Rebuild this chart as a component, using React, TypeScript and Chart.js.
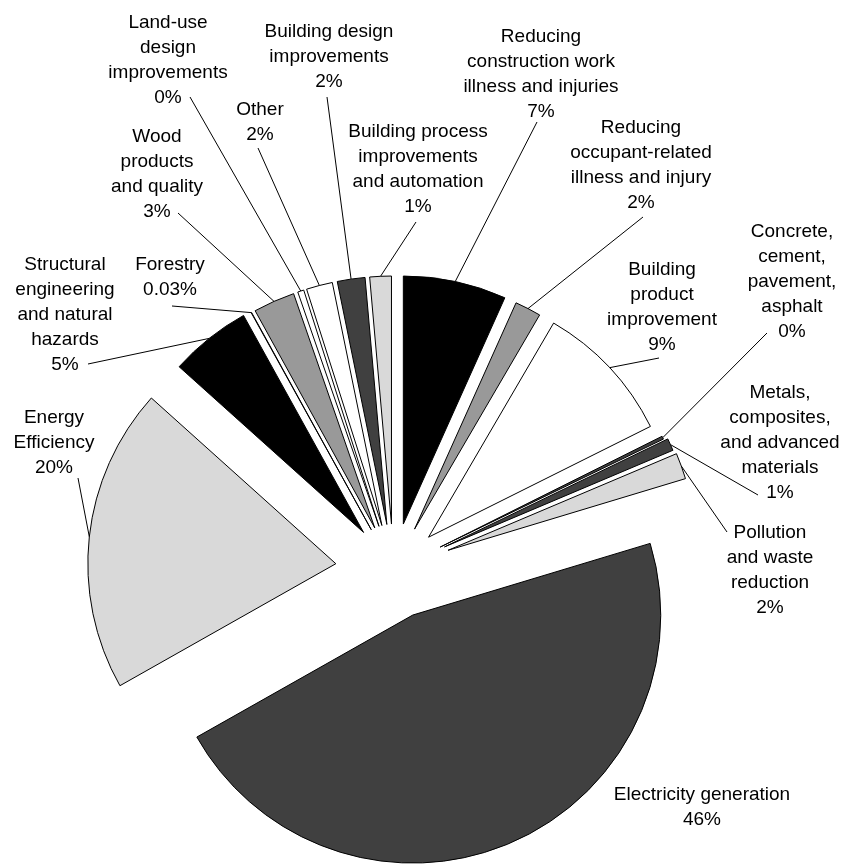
import React, { useEffect, useRef } from 'react';
import { Chart, registerables, PieController, ArcElement } from 'chart.js';

// ---------- data (clockwise from 12 o'clock) ----------
const categories: string[][] = [
  ['Reducing', 'construction work', 'illness and injuries'],
  ['Reducing', 'occupant-related', 'illness and injury'],
  ['Building', 'product', 'improvement'],
  ['Concrete,', 'cement,', 'pavement,', 'asphalt'],
  ['Metals,', 'composites,', 'and advanced', 'materials'],
  ['Pollution', 'and waste', 'reduction'],
  ['Electricity generation'],
  ['Energy', 'Efficiency'],
  ['Structural', 'engineering', 'and natural', 'hazards'],
  ['Forestry'],
  ['Wood', 'products', 'and quality'],
  ['Land-use', 'design', 'improvements'],
  ['Other'],
  ['Building design', 'improvements'],
  ['Building process', 'improvements', 'and automation'],
];
const values: number[] = [6.7, 1.7, 9.2, 0.2, 0.8, 1.7, 46.4, 19.8, 5.3, 0.03, 2.7, 0.4, 1.7, 1.8, 1.4];
const percentLabels: string[] = ['7%', '2%', '9%', '0%', '1%', '2%', '46%', '20%', '5%', '0.03%', '3%', '0%', '2%', '2%', '1%'];

// ---------- styles / layout ----------
const sliceColors = ['#000000', '#999999', '#ffffff', '#404040', '#404040', '#d9d9d9', '#404040', '#d9d9d9', '#000000', '#999999', '#999999', '#ffffff', '#ffffff', '#404040', '#d9d9d9'];
const explode = [47, 46, 48, 52, 56, 58, 49, 58, 48, 46, 46, 46, 46, 46, 46];
const labelAnchors: [number, number][] = [
  [541, 37], [641, 128], [662, 270], [792, 232], [780, 393], [770, 533], [702, 795],
  [54, 418], [65, 265], [170, 265], [157, 137], [168, 23], [260, 110], [329, 32], [418, 132],
];
const leaderStarts: ([number, number] | null)[] = [
  [537, 122], [643, 217], [659, 358], [767, 333], [758, 495], [727, 532], null,
  [78, 478], [88, 364], [172, 306], [178, 213], [190, 97], [258, 148], [327, 97], [416, 222],
];
const LINE_H = 25;
const FONT = '19px "Liberation Sans", Arial, Helvetica, sans-serif';

class ExplodedArc extends ArcElement {
  static id = 'explodedArc';
  draw(ctx: CanvasRenderingContext2D) {
    const el: any = this;
    const o = el.options;
    const mid = (el.startAngle + el.endAngle) / 2;
    const d = o.offset || 0;
    const cx = el.x + Math.cos(mid) * d;
    const cy = el.y + Math.sin(mid) * d;
    ctx.save();
    ctx.beginPath();
    ctx.moveTo(cx, cy);
    ctx.arc(cx, cy, el.outerRadius, el.startAngle, el.endAngle);
    ctx.closePath();
    ctx.fillStyle = o.backgroundColor;
    ctx.fill();
    if (o.borderWidth) {
      ctx.lineWidth = o.borderWidth;
      ctx.strokeStyle = o.borderColor;
      ctx.lineJoin = 'miter';
      ctx.stroke();
    }
    ctx.restore();
  }
}

class ExplodedPieController extends PieController {
  static id = 'explodedPie';
  static defaults = { dataElementType: 'explodedArc' };
}

Chart.register(...registerables, ExplodedArc, ExplodedPieController);

const labelPlugin = {
  id: 'sliceLabels',
  afterDatasetsDraw(chart: any) {
    const ctx: CanvasRenderingContext2D = chart.ctx;
    const meta = chart.getDatasetMeta(0);
    ctx.save();
    ctx.strokeStyle = '#000';
    ctx.lineWidth = 1;
    ctx.fillStyle = '#000';
    ctx.font = FONT;
    ctx.textAlign = 'center';
    ctx.textBaseline = 'middle';
    meta.data.forEach((arc: any, i: number) => {
      const mid = (arc.startAngle + arc.endAngle) / 2;
      const d = explode[i];
      const r = d + arc.outerRadius;
      const ex = arc.x + Math.cos(mid) * r;
      const ey = arc.y + Math.sin(mid) * r;
      const s = leaderStarts[i];
      if (s) {
        ctx.beginPath();
        ctx.moveTo(s[0], s[1]);
        ctx.lineTo(ex, ey);
        ctx.stroke();
      }
      const lines = [...categories[i], percentLabels[i]];
      const [ax, ay] = labelAnchors[i];
      lines.forEach((t, k) => ctx.fillText(t, ax, ay + k * LINE_H));
    });
    ctx.restore();
  },
};

export default function App() {
  const ref = useRef<HTMLCanvasElement>(null);
  useEffect(() => {
    if (!ref.current) return;
    const chart = new Chart(ref.current, {
      type: 'explodedPie' as any,
      data: {
        labels: categories.map((c) => c.join(' ')),
        datasets: [
          {
            data: values,
            backgroundColor: sliceColors,
            borderColor: '#000000',
            borderWidth: 1,
            offset: explode,
            radius: 248,
          } as any,
        ],
      },
      options: {
        responsive: false,
        animation: false,
        events: [],
        layout: { padding: { left: 0, right: 55, top: 275, bottom: 0 } },
        plugins: { legend: { display: false }, tooltip: { enabled: false } },
      } as any,
      plugins: [labelPlugin],
    });
    return () => chart.destroy();
  }, []);
  return (
    <div style={{ position: 'absolute', left: 0, top: 0, width: 842, height: 865, background: '#fff' }}>
      <canvas ref={ref} width={842} height={865} style={{ display: 'block' }} />
    </div>
  );
}
